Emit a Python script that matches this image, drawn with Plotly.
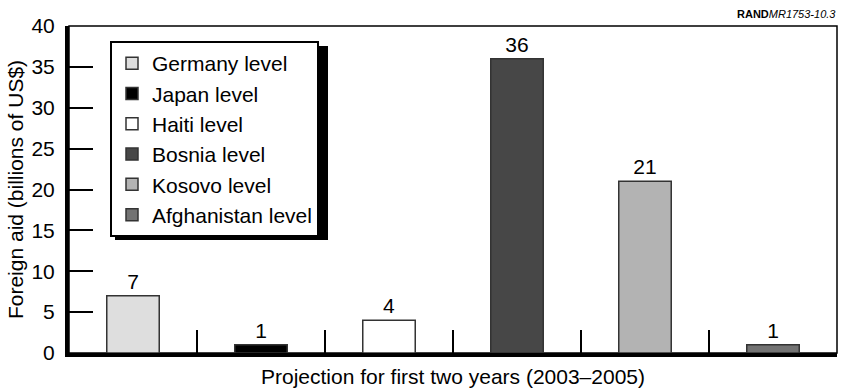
import plotly.graph_objects as go

categories = ["Germany level", "Japan level", "Haiti level", "Bosnia level", "Kosovo level", "Afghanistan level"]
values = [7, 1, 4, 36, 21, 1]
colors = ["#dedede", "#000000", "#ffffff", "#474747", "#b3b3b3", "#737373"]
y_ticks = [0, 5, 10, 15, 20, 25, 30, 35, 40]

FONT = "Liberation Sans, Arial, Helvetica, sans-serif"
W, H = 841, 391
L, R, T, B = 69, 4, 26, 38
PW, PH = W - L - R, H - T - B

fig = go.Figure()
for cat, val, col in zip(categories, values, colors):
    fig.add_trace(go.Bar(
        x=[cat], y=[val], name=cat, width=0.41,
        marker=dict(color=col, line=dict(color="#333333", width=1.5)),
        text=[str(val)], textposition="outside",
        textfont=dict(size=21, color="black", family=FONT),
        cliponaxis=False,
    ))

def px_x(px):
    return (px - L) / PW

def px_y(py):
    return (H - B - py) / PH

# legend shadow
fig.add_shape(type="rect", xref="paper", yref="paper",
              x0=px_x(115), x1=px_x(328), y0=px_y(240), y1=px_y(46),
              fillcolor="black", line=dict(width=0), layer="above")
# thin top/right frame
fig.add_shape(type="rect", xref="paper", yref="paper", x0=0, x1=1, y0=0, y1=1,
              line=dict(color="black", width=1.5), layer="below")

fig.add_annotation(xref="paper", yref="paper", x=px_x(838), y=px_y(14),
                   xanchor="right", yanchor="middle", showarrow=False,
                   text="<b>RAND</b><i>MR1753-10.3</i>",
                   font=dict(size=11, family=FONT, color="black"))

fig.update_layout(
    width=W, height=H,
    margin=dict(l=L, r=R, t=T, b=B, autoexpand=False),
    paper_bgcolor="white", plot_bgcolor="white",
    barmode="overlay", showlegend=True,
    font=dict(family=FONT, size=21, color="black"),
    legend=dict(x=px_x(110), y=px_y(41), xanchor="left", yanchor="top",
                bgcolor="white", bordercolor="black", borderwidth=2,
                font=dict(size=21, family=FONT), traceorder="normal",
                itemclick=False, itemdoubleclick=False),
    xaxis=dict(type="category", categoryorder="array", categoryarray=categories,
               range=[-0.5, 5.5], showticklabels=False,
               tickson="boundaries", ticks="inside", ticklen=23, tickwidth=1.5, tickcolor="black",
               showline=True, linewidth=4, linecolor="black", showgrid=False, zeroline=False,
               title=dict(text="Projection for first two years (2003–2005)", standoff=14,
                          font=dict(size=21, family=FONT))),
    yaxis=dict(range=[0, 40], tickvals=y_ticks, ticks="inside", ticklen=24, tickwidth=1.5,
               tickcolor="black", showline=True, linewidth=4, linecolor="black",
               showgrid=False, zeroline=False, ticklabelstandoff=6,
               tickfont=dict(size=21, family=FONT),
               title=dict(text="Foreign aid (billions of US$)", standoff=3,
                          font=dict(size=21, family=FONT))),
)

fig.write_html("out.html", config={"displayModeBar": False},
               post_script="document.body.style.margin='0';document.body.style.overflow='hidden';")
